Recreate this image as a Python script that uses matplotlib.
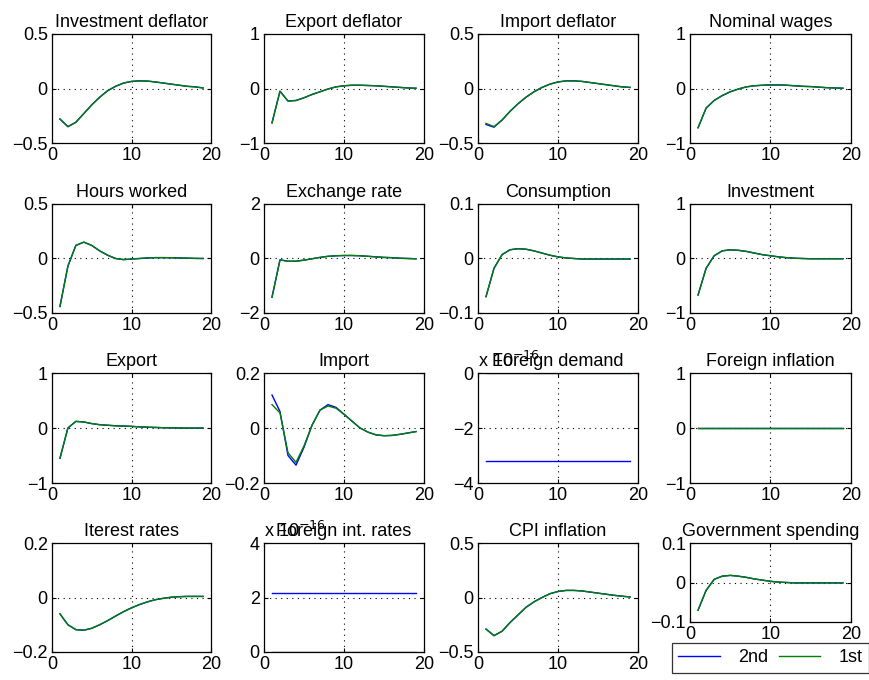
import numpy as np
import matplotlib
matplotlib.use("Agg")
import matplotlib.pyplot as plt
from matplotlib.ticker import FuncFormatter

plt.rcParams['font.family'] = ['Liberation Sans', 'DejaVu Sans']

periods = list(range(1, 20))

titles = ["Investment deflator", "Export deflator", "Import deflator", "Nominal wages",
          "Hours worked", "Exchange rate", "Consumption", "Investment",
          "Export", "Import", "Foreign demand", "Foreign inflation",
          "Iterest rates", "Foreign int. rates", "CPI inflation", "Government spending"]

ylims = [(-0.5, 0.5), (-1, 1), (-0.5, 0.5), (-1, 1),
         (-0.5, 0.5), (-2, 2), (-0.1, 0.1), (-1, 1),
         (-1, 1), (-0.2, 0.2), (-4e-16, 0), (-1, 1),
         (-0.2, 0.2), (0, 4e-16), (-0.5, 0.5), (-0.1, 0.1)]

inv_defl = [-0.28, -0.35, -0.31, -0.23, -0.15, -0.08, -0.02, 0.02, 0.05, 0.065,
            0.07, 0.068, 0.06, 0.05, 0.04, 0.03, 0.02, 0.015, 0.005]
exp_defl = [-0.63, -0.05, -0.23, -0.22, -0.17, -0.11, -0.06, -0.01, 0.03, 0.05,
            0.06, 0.06, 0.055, 0.05, 0.04, 0.03, 0.02, 0.01, 0.005]
imp_defl_1 = [-0.32, -0.35, -0.29, -0.21, -0.14, -0.08, -0.03, 0.01, 0.04, 0.06,
              0.07, 0.07, 0.065, 0.055, 0.045, 0.035, 0.025, 0.015, 0.01]
imp_defl_2 = [-0.33, -0.355, -0.29, -0.21, -0.14, -0.08, -0.03, 0.01, 0.04, 0.06,
              0.07, 0.07, 0.065, 0.055, 0.045, 0.035, 0.025, 0.015, 0.01]
nom_wages = [-0.72, -0.36, -0.22, -0.13, -0.06, -0.01, 0.03, 0.05, 0.06, 0.065,
             0.065, 0.06, 0.05, 0.04, 0.035, 0.025, 0.015, 0.01, 0.005]
hours = [-0.44, -0.07, 0.12, 0.15, 0.12, 0.07, 0.03, 0.0, -0.01, -0.005,
         0.0, 0.005, 0.008, 0.008, 0.007, 0.005, 0.003, 0.001, 0.0]
exch = [-1.42, -0.05, -0.1, -0.1, -0.06, -0.01, 0.04, 0.08, 0.1, 0.11,
        0.11, 0.1, 0.08, 0.06, 0.04, 0.03, 0.01, 0.0, -0.01]
consumption = [-0.07, -0.018, 0.007, 0.016, 0.018, 0.017, 0.014, 0.01, 0.006, 0.003,
               0.001, 0.0, -0.001, -0.001, -0.001, -0.001, -0.001, -0.001, -0.001]
investment = [-0.67, -0.18, 0.05, 0.14, 0.16, 0.15, 0.13, 0.1, 0.07, 0.05,
              0.03, 0.015, 0.005, 0.0, -0.005, -0.005, -0.005, -0.005, -0.005]
export = [-0.55, 0.0, 0.12, 0.11, 0.08, 0.06, 0.05, 0.04, 0.035, 0.03,
          0.02, 0.015, 0.01, 0.005, 0.002, 0.0, -0.002, -0.002, -0.001]
import_2 = [0.12, 0.06, -0.1, -0.135, -0.07, 0.01, 0.065, 0.085, 0.075, 0.05,
            0.025, 0.0, -0.015, -0.025, -0.028, -0.027, -0.023, -0.018, -0.013]
import_1 = [0.085, 0.055, -0.09, -0.125, -0.065, 0.01, 0.065, 0.08, 0.072, 0.05,
            0.025, 0.0, -0.015, -0.025, -0.028, -0.027, -0.023, -0.018, -0.013]
for_demand_2 = [-3.2e-16] * 19
for_demand_1 = [0.0] * 19
for_infl = [0.0] * 19
int_rates = [-0.06, -0.1, -0.118, -0.12, -0.113, -0.1, -0.085, -0.068, -0.052, -0.038,
             -0.026, -0.016, -0.008, -0.003, 0.001, 0.003, 0.004, 0.004, 0.004]
for_int_2 = [2.15e-16] * 19
for_int_1 = [0.0] * 19
cpi = [-0.29, -0.35, -0.31, -0.23, -0.16, -0.09, -0.04, 0.0, 0.035, 0.055,
       0.065, 0.065, 0.06, 0.05, 0.04, 0.03, 0.02, 0.012, 0.005]
gov = [-0.07, -0.02, 0.008, 0.016, 0.018, 0.016, 0.013, 0.009, 0.006, 0.003,
       0.001, 0.0, -0.001, -0.001, -0.001, -0.001, -0.001, -0.001, -0.001]

second = [inv_defl, exp_defl, imp_defl_2, nom_wages,
          hours, exch, consumption, investment,
          export, import_2, for_demand_2, for_infl,
          int_rates, for_int_2, cpi, gov]
first = [inv_defl, exp_defl, imp_defl_1, nom_wages,
         hours, exch, consumption, investment,
         export, import_1, for_demand_1, for_infl,
         int_rates, for_int_1, cpi, gov]

W, H = 870, 680
fig = plt.figure(figsize=(W / 100, H / 100), dpi=100)

col_lr = [(52, 211), (264, 424), (478, 638), (690, 851)]
row_tb = [(34, 143), (204, 313), (373, 483), (543, 652)]

blue = (0, 0, 1)
green = (0, 0.5, 0)
FS = 13

line_handles = None
for i in range(16):
    r, c = divmod(i, 4)
    l, rr = col_lr[c]
    t, b = row_tb[r]
    if i == 15:
        b = 622
    ax = fig.add_axes([l / W, 1 - b / H, (rr - l) / W, (b - t) / H])
    h2, = ax.plot(periods, second[i], color=blue, lw=1.0)
    h1, = ax.plot(periods, first[i], color=green, lw=1.0)
    line_handles = (h2, h1)
    lo, hi = ylims[i]
    ax.set_xlim(0, 20)
    ax.set_ylim(lo, hi)
    ax.set_xticks([0, 10, 20])
    ax.set_yticks([lo, (lo + hi) / 2, hi])
    if i in (10, 13):
        ax.yaxis.set_major_formatter(FuncFormatter(lambda v, p: f"{v / 1e-16:g}".replace("-", "\u2212")))
        ax.text(0.0, 1.02, "x 10$^{-16}$", transform=ax.transAxes, fontsize=FS,
                ha="left", va="bottom")
    else:
        ax.yaxis.set_major_formatter(FuncFormatter(lambda v, p: f"{v:g}".replace("-", "\u2212")))
    ax.axvline(10, color="black", lw=0.8, ls=(0, (1, 4)), zorder=0)
    ax.axhline((lo + hi) / 2, color="black", lw=0.8, ls=(0, (1, 4)), zorder=0)
    ax.tick_params(direction="in", top=True, right=True, labelsize=FS, length=3, width=0.8, pad=3)
    for s in ax.spines.values():
        s.set_linewidth(0.9)
        s.set_color("black")
    ax.set_title(titles[i], fontsize=FS, pad=5)

leg = fig.legend(line_handles, ["2nd", "1st"], ncol=2, loc="upper left",
                 bbox_to_anchor=(672 / W, 1 - 643 / H),
                 frameon=True, fancybox=False, fontsize=FS,
                 handlelength=2.3, borderaxespad=0, columnspacing=0.6,
                 handletextpad=1.0, borderpad=0.35)
leg.get_frame().set_edgecolor("black")
leg.get_frame().set_linewidth(0.9)

fig.savefig("out.png", dpi=100, facecolor="white")
